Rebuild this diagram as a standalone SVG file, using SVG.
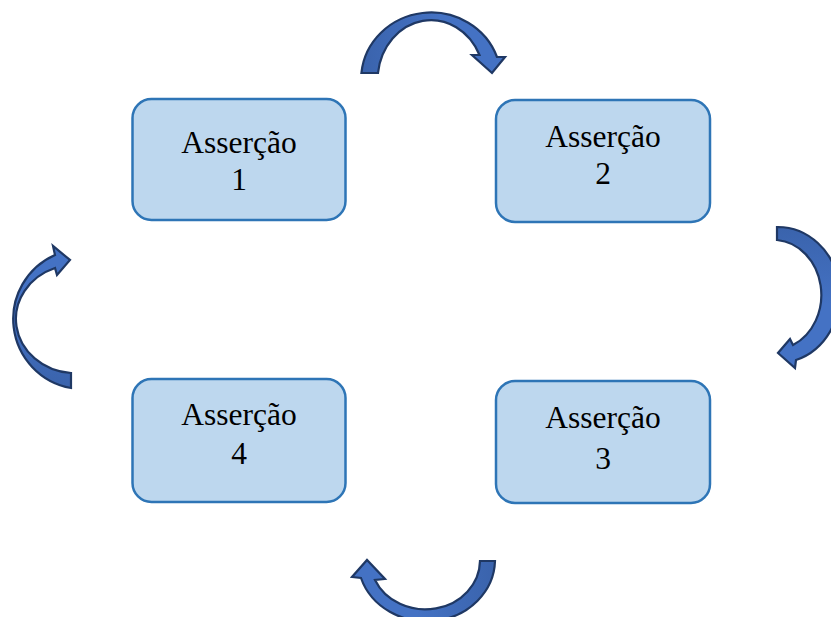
<svg xmlns="http://www.w3.org/2000/svg" width="831" height="617" viewBox="0 0 831 617">
  <style>
    .box { fill: #BDD7EE; stroke: #2E75B6; stroke-width: 2.5; }
    .label { font-family: "Liberation Serif", "Times New Roman", serif; font-size: 31.5px; fill: #000; text-anchor: middle; }
    .arrow { stroke: #1F3864; stroke-width: 2.2; stroke-linejoin: miter; }
  </style>
  <defs>
    <!-- curved arrows are slightly darker towards the tail -->
    <linearGradient id="gTop" x1="0" y1="0" x2="1" y2="0">
      <stop offset="0" stop-color="#3A63AC"/>
      <stop offset="0.55" stop-color="#4472C4"/>
    </linearGradient>
    <linearGradient id="gRight" x1="0" y1="0" x2="0" y2="1">
      <stop offset="0" stop-color="#3A63AC"/>
      <stop offset="0.55" stop-color="#4472C4"/>
    </linearGradient>
    <linearGradient id="gBottom" x1="1" y1="0" x2="0" y2="0">
      <stop offset="0" stop-color="#3A63AC"/>
      <stop offset="0.55" stop-color="#4472C4"/>
    </linearGradient>
    <linearGradient id="gLeft" x1="0" y1="1" x2="0" y2="0">
      <stop offset="0" stop-color="#3A63AC"/>
      <stop offset="0.55" stop-color="#4472C4"/>
    </linearGradient>
  </defs>

  <g id="node-1">
    <rect class="box" x="132.5" y="99" width="213" height="121" rx="19"/>
    <text class="label" x="239" y="153">Asserção</text>
    <text class="label" x="239" y="190">1</text>
  </g>
  <g id="node-2">
    <rect class="box" x="496" y="100" width="214" height="122" rx="19"/>
    <text class="label" x="603" y="147">Asserção</text>
    <text class="label" x="603" y="184">2</text>
  </g>
  <g id="node-3">
    <rect class="box" x="496" y="381" width="214" height="122" rx="19"/>
    <text class="label" x="603" y="428">Asserção</text>
    <text class="label" x="603" y="469">3</text>
  </g>
  <g id="node-4">
    <rect class="box" x="132.5" y="379" width="213" height="123" rx="19"/>
    <text class="label" x="239" y="425">Asserção</text>
    <text class="label" x="239" y="464">4</text>
  </g>

  <g id="connectors">
    <!-- 1 to 2 -->
    <path class="arrow" fill="url(#gTop)" d="M 361.4,73 A 70,67 0 0 1 497,57 L 505,57 L 492,73 L 472,55 L 479.5,55 A 53.4,60 0 0 0 378,73 Z"/>
    <!-- 2 to 3 -->
    <path class="arrow" fill="url(#gRight)" d="M 777,227 A 62,68 0 0 1 796,360 L 795,368 L 778,353 L 790,339 L 793,345 A 48,55 0 0 0 777,240 Z"/>
    <!-- 3 to 4 -->
    <path class="arrow" fill="url(#gBottom)" d="M 495,561 A 68.6,62 0 0 1 361,578 L 352,577 L 367,560 L 385,579 L 375,580 A 54.8,49 0 0 0 480,561 Z"/>
    <!-- 4 to 1 -->
    <path class="arrow" fill="url(#gLeft)" d="M 71,388 A 70,70 0 0 1 55,255 L 53,246 L 70,260 L 57,275 L 55,268 A 60,54.3 0 0 0 71,373 Z"/>
  </g>
</svg>
